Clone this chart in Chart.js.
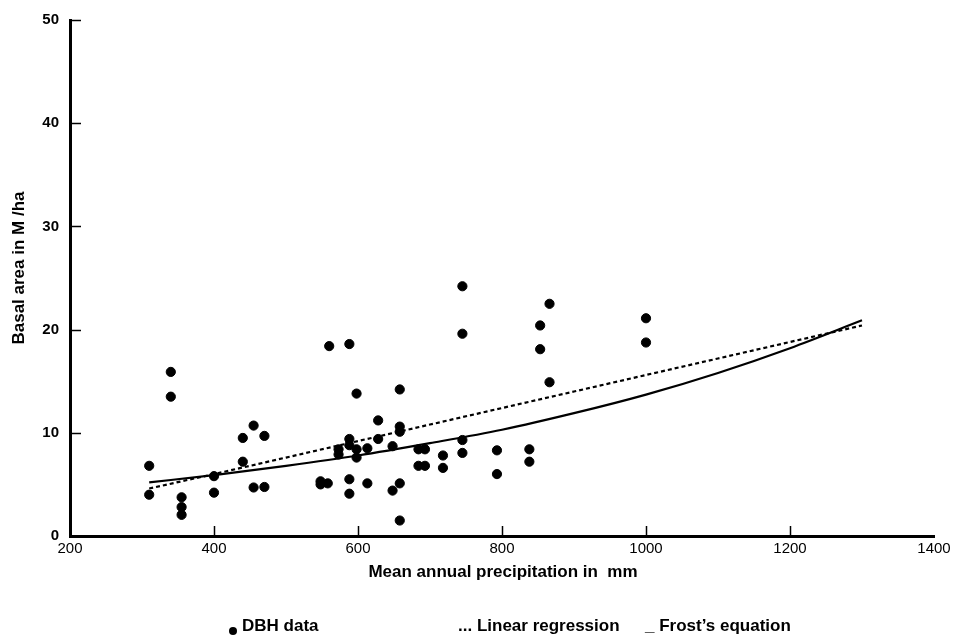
<!DOCTYPE html>
<html>
<head>
<meta charset="utf-8">
<script src="https://cdn.jsdelivr.net/npm/chart.js@4"></script>
<style>
html,body{margin:0;padding:0;background:#fff;}
canvas{display:block;}
</style>
</head>
<body>
<canvas id="c" width="958" height="640"></canvas>
<script>
// ---- data ----
const precip = [310,310,340,340,355,355,355,400,400,440,455,470,440,455,470,
  560,588,598,658,628,658,658,588,628,573,573,588,598,598,613,648,684,684,548,548,558,588,588,613,658,648,658,
  745,745,853,693,693,718,718,745,745,793,793,838,838,866,853,866,1000,1000];
const basal = [6.8,4.0,15.9,13.5,3.75,2.8,2.05,5.8,4.2,9.5,10.7,9.7,7.2,4.7,4.75,
  18.4,18.6,13.8,14.2,11.2,10.6,10.1,9.4,9.4,8.4,7.9,8.8,8.4,7.6,8.5,8.7,8.4,6.8,5.3,5.0,5.1,5.5,4.1,5.1,5.1,4.4,1.5,
  24.2,19.6,18.1,8.4,6.8,7.8,6.6,9.3,8.05,8.3,6.0,8.4,7.2,22.5,20.4,14.9,21.1,18.75];
const curveX = [310,400,500,600,700,800,900,1000,1100,1200,1300];
const linearY = [4.6,6.0,7.6,9.2,10.8,12.4,14.0,15.6,17.2,18.8,20.4];
const frostY = [5.2,5.9,6.8,7.8,9.0,10.3,11.9,13.7,15.8,18.2,20.9];
const xTicks = [200,400,600,800,1000,1200,1400];
const yTicks = [0,10,20,30,40,50];
const xTitle = 'Mean annual precipitation in  mm';
const yTitle = 'Basal area in M /ha';
const legendItems = ['DBH data', '... Linear regression', '_ Frost\u2019s equation'];

const FONT = '"Liberation Sans", Arial, sans-serif';
const pts = precip.map((x,i)=>({x, y: basal[i]}));
const lin = curveX.map((x,i)=>({x, y: linearY[i]}));
const fro = curveX.map((x,i)=>({x, y: frostY[i]}));

const decor = {
  id: 'decor',
  afterDraw(chart){
    const ctx = chart.ctx, a = chart.chartArea;
    const xs = chart.scales.x, ys = chart.scales.y;
    ctx.save();
    ctx.strokeStyle = '#000';
    ctx.lineWidth = 1.5;
    // inner tick marks
    yTicks.forEach(v=>{
      if (v===0) return;
      const py = Math.round(ys.getPixelForValue(v))+0.5;
      ctx.beginPath(); ctx.moveTo(a.left+1, py); ctx.lineTo(a.left+11, py); ctx.stroke();
    });
    xTicks.forEach(v=>{
      if (v===200||v===1400) return;
      const px = Math.round(xs.getPixelForValue(v))+0.5;
      ctx.beginPath(); ctx.moveTo(px, a.bottom-1); ctx.lineTo(px, a.bottom-10); ctx.stroke();
    });
    ctx.fillStyle = '#000';
    // titles
    ctx.font = 'bold 17px ' + FONT;
    ctx.textAlign = 'center'; ctx.textBaseline = 'middle';
    ctx.fillText(xTitle, (a.left+a.right)/2 + 1, 572);
    ctx.save();
    ctx.translate(19, 268);
    ctx.rotate(-Math.PI/2);
    ctx.fillText(yTitle, 0, 0);
    ctx.restore();
    // legend
    ctx.textAlign = 'left';
    ctx.beginPath(); ctx.arc(233, 631, 4, 0, Math.PI*2); ctx.fill();
    ctx.fillText(legendItems[0], 242, 626);
    ctx.fillText(legendItems[1], 458, 626);
    ctx.fillText(legendItems[2], 645, 626);
    ctx.restore();
  }
};

new Chart(document.getElementById('c'), {
  type: 'scatter',
  data: {
    datasets: [
      { label: 'DBH data', data: pts, backgroundColor: '#000', borderColor: '#000', pointRadius: 4.6, pointHoverRadius: 4.6, order: 1 },
      { label: 'Linear regression', data: lin, showLine: true, borderColor: '#000', borderWidth: 2.2, borderDash: [4,3], pointRadius: 0, fill: false, order: 2 },
      { label: "Frost's equation", data: fro, showLine: true, borderColor: '#000', borderWidth: 2.2, pointRadius: 0, tension: 0.4, cubicInterpolationMode: 'monotone', fill: false, order: 3 }
    ]
  },
  options: {
    responsive: false,
    animation: false,
    devicePixelRatio: 1,
    layout: { padding: { top: 16, right: 24, bottom: 0, left: 0 } },
    plugins: { legend: { display: false }, tooltip: { enabled: false } },
    scales: {
      x: {
        type: 'linear', min: 200, max: 1400,
        afterBuildTicks(s){ s.ticks = xTicks.map(v=>({value:v})); },
        afterFit(s){ s.height = 104; },
        ticks: { color: '#000', font: { family: FONT, size: 15 }, padding: 4, maxRotation: 0, callback: v => String(v) },
        grid: { display: false, drawTicks: false },
        border: { display: true, color: '#000', width: 3 }
      },
      y: {
        type: 'linear', min: 0, max: 50,
        afterBuildTicks(s){ s.ticks = yTicks.map(v=>({value:v})); },
        afterFit(s){ s.width = 70; },
        ticks: { color: '#000', font: { family: FONT, size: 15, weight: 'bold' }, padding: 11, callback: v => String(v) },
        grid: { display: false, drawTicks: false },
        border: { display: true, color: '#000', width: 3 }
      }
    }
  },
  plugins: [decor]
});
</script>
</body>
</html>
